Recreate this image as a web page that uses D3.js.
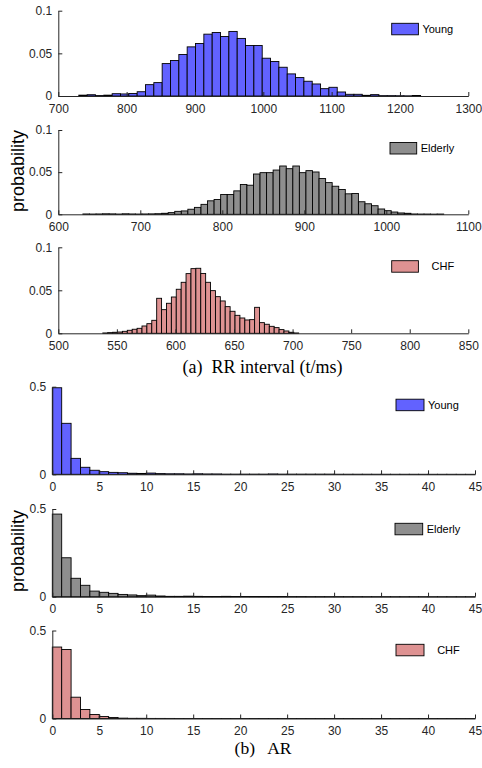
<!DOCTYPE html>
<html>
<head>
<meta charset="utf-8">
<script src="https://cdn.jsdelivr.net/npm/d3@7"></script>
<style>
  html, body { margin: 0; padding: 0; background: #fff; }
  svg { display: block; }
  text { white-space: pre; }
</style>
</head>
<body>
<svg id="chart" width="482" height="768"></svg>
<script>
// ---- RR interval histograms (probability per bin) ----
const rrYoungStart = 730, rrYoungBin = 12.2;
const rrYoung = [0.001, 0.0015, 0.0005, 0.001, 0.0027, 0.0024, 0.003, 0.005, 0.0133, 0.0157,
  0.038, 0.0416, 0.0486, 0.0576, 0.0616, 0.0725, 0.0745, 0.0698, 0.0757, 0.0675,
  0.0592, 0.0592, 0.0443, 0.0404, 0.0337, 0.0259, 0.0216, 0.0173, 0.0141, 0.0086,
  0.0102, 0.0047, 0.002, 0.002, 0.0008, 0.0016, 0.0004, 0.0004, 0.0003, 0.0002, 0.0006];

const rrElderlyStart = 630, rrElderlyBin = 8;
const rrElderly = [0.0004, 0.0003, 0.0004, 0.0006, 0.0005, 0.0003, 0.0006, 0.0004, 0.0003, 0.0004,
  0.0005, 0.0007, 0.0012, 0.002, 0.0035, 0.004, 0.006, 0.0082, 0.0118, 0.016,
  0.0176, 0.0235, 0.0235, 0.0278, 0.0353, 0.0345, 0.0478, 0.0494, 0.0494, 0.0525,
  0.0573, 0.0541, 0.0573, 0.0494, 0.0518, 0.0502, 0.0424, 0.0376, 0.0333, 0.0294,
  0.0243, 0.0247, 0.0149, 0.0125, 0.0102, 0.0063, 0.0043, 0.0027, 0.0016, 0.0012,
  0.0004, 0.0003, 0.0003, 0.0002, 0.0003];

const rrChfStart = 538, rrChfBin = 4.18;
const rrChf = [0.0004, 0.0008, 0.0012, 0.0015, 0.0023, 0.0035, 0.0047, 0.0058, 0.0085, 0.0112,
  0.0151, 0.0407, 0.0275, 0.0349, 0.0422, 0.0512, 0.0593, 0.0694, 0.0752, 0.0756,
  0.0696, 0.0593, 0.0496, 0.0426, 0.0376, 0.031, 0.0256, 0.0209, 0.0178, 0.0155,
  0.0159, 0.0302, 0.0124, 0.0105, 0.0081, 0.0066, 0.0043, 0.0027, 0.0012, 0.0004];

// ---- AR histograms (unit bins starting at 0) ----
const arStart = 0, arBin = 1;
const arYoung = [0.494, 0.291, 0.091, 0.040, 0.023, 0.015, 0.011, 0.009, 0.006, 0.005,
  0.007, 0.004, 0.003, 0.003, 0.002, 0.003, 0.002, 0.002, 0.001, 0.001,
  0.001, 0.001, 0.001, 0.002, 0.001, 0.001, 0.001, 0.001, 0.001, 0.001,
  0.0005, 0.0005, 0.0005, 0.0005, 0.0004, 0.0004, 0.0003, 0.0003, 0.0003, 0.0002,
  0.0002, 0.0002, 0.0002, 0.0001, 0.0001];
const arElderly = [0.471, 0.222, 0.105, 0.065, 0.032, 0.025, 0.019, 0.013, 0.010, 0.006,
  0.009, 0.004, 0.002, 0.002, 0.003, 0.002, 0.001, 0.001, 0.002, 0.001,
  0.001, 0.001, 0.001, 0.001, 0.001, 0.0008, 0.0008, 0.0006, 0.0006, 0.0005,
  0.0005, 0.0004, 0.0004, 0.0003, 0.0003, 0.0003, 0.0002, 0.0002, 0.0002, 0.0002,
  0.0001, 0.0001, 0.0001, 0.0001, 0.0001];
const arChf = [0.406, 0.392, 0.121, 0.051, 0.023, 0.011, 0.006, 0.002, 0.001, 0.001,
  0.0005, 0.0005, 0.0004, 0.0003, 0.0003, 0.0002, 0.0002, 0.0002, 0.0001, 0.0001,
  0.0001, 0.0001, 0.0001, 0.0001, 0.0001, 0.0001, 0.0001, 0.0001, 0.0001, 0.0001,
  0.0001, 0.0001, 0.0001, 0.0001, 0.0001, 0.0001, 0.0001, 0.0001, 0.0001, 0.0001,
  0.0001, 0.0001, 0.0001, 0.0001, 0.0001];

// ---- axis ticks ----
const rrYoungTicks = [700, 800, 900, 1000, 1100, 1200, 1300];
const rrElderlyTicks = [600, 700, 800, 900, 1000, 1100];
const rrChfTicks = [500, 550, 600, 650, 700, 750, 800, 850];
const arTicks = [0, 5, 10, 15, 20, 25, 30, 35, 40, 45];
const rrProbTicks = [0, 0.05, 0.1];
const arProbTicks = [0, 0.5];

// ---- groups ----
const groupNames = ["Young", "Elderly", "CHF"];
const groupLegendText = ["Young", "Elderly", "   CHF"];
const groupColors = ["#6262ff", "#8e8e8e", "#de9292"];

const svg = d3.select("#chart");
const axisColor = "#262626";
const sans = "'Liberation Sans', Arial, Helvetica, sans-serif";
const serif = "'Liberation Serif', 'Times New Roman', Times, serif";

function drawPanel(p) {
  const x = d3.scaleLinear().domain(p.xDomain).range([p.left, p.right]);
  const y = d3.scaleLinear().domain(p.yDomain).range([p.bottom, p.top]);
  const g = svg.append("g");

  // bars
  g.selectAll("rect.bar").data(p.values).join("rect")
    .attr("class", "bar")
    .attr("x", (d, i) => x(p.start + i * p.bin))
    .attr("width", (d, i) => x(p.start + (i + 1) * p.bin) - x(p.start + i * p.bin))
    .attr("y", d => y(d))
    .attr("height", d => y(0) - y(d))
    .attr("fill", p.color)
    .attr("stroke", "#000")
    .attr("stroke-width", 0.9);

  // x axis: ticks pointing inward, no domain end caps
  const xAxis = d3.axisBottom(x).tickValues(p.xTicks).tickSizeInner(-4).tickSizeOuter(0)
    .tickPadding(8).tickFormat(d3.format("d"));
  const gx = g.append("g").attr("transform", `translate(0,${p.bottom})`).call(xAxis);
  gx.select(".domain").attr("stroke", axisColor);
  gx.selectAll(".tick line").attr("stroke", axisColor);
  gx.selectAll(".tick text").attr("fill", axisColor).attr("font-family", sans)
    .attr("font-size", 12);

  // y axis
  const yAxis = d3.axisLeft(y).tickValues(p.yTicks).tickSizeInner(-4).tickSizeOuter(0)
    .tickPadding(6).tickFormat(d => d === 0 ? "0" : String(d));
  const gy = g.append("g").attr("transform", `translate(${p.left},0)`).call(yAxis);
  gy.select(".domain").attr("stroke", axisColor);
  gy.selectAll(".tick line").attr("stroke", axisColor);
  gy.selectAll(".tick text").attr("fill", axisColor).attr("font-family", sans)
    .attr("font-size", 12);

  // legend
  const lg = g.append("g").attr("transform", `translate(${p.right + p.legendDx},${p.top + p.legendDy})`);
  lg.append("rect").attr("x", 0).attr("y", 0).attr("width", p.legendW).attr("height", 11.5)
    .attr("fill", p.color).attr("stroke", "#000").attr("stroke-width", 0.9);
  lg.append("text").attr("x", p.legendW + 4).attr("y", 5.75).attr("dy", "0.35em")
    .attr("font-family", sans).attr("font-size", 11).attr("fill", "#000")
    .text(p.legendText);
}

const rrLeft = 58.3, rrRight = 468.3;
const arLeft = 52.3, arRight = 475;

drawPanel({ values: rrYoung, start: rrYoungStart, bin: rrYoungBin, xDomain: [700, 1300], xTicks: rrYoungTicks,
  yDomain: [0, 0.1], yTicks: rrProbTicks, color: groupColors[0], legendText: groupLegendText[0],
  left: rrLeft, right: rrRight, top: 10.7, bottom: 96, legendDx: -76.6, legendDy: 12.6, legendW: 26.7 });
drawPanel({ values: rrElderly, start: rrElderlyStart, bin: rrElderlyBin, xDomain: [600, 1100], xTicks: rrElderlyTicks,
  yDomain: [0, 0.1], yTicks: rrProbTicks, color: groupColors[1], legendText: groupLegendText[1],
  left: rrLeft, right: rrRight, top: 130, bottom: 214.3, legendDx: -78.3, legendDy: 12.5, legendW: 26.7 });
drawPanel({ values: rrChf, start: rrChfStart, bin: rrChfBin, xDomain: [500, 850], xTicks: rrChfTicks,
  yDomain: [0, 0.1], yTicks: rrProbTicks, color: groupColors[2], legendText: groupLegendText[2],
  left: rrLeft, right: rrRight, top: 247.3, bottom: 333.3, legendDx: -76.6, legendDy: 13.4, legendW: 26.7 });

drawPanel({ values: arYoung, start: arStart, bin: arBin, xDomain: [0, 45], xTicks: arTicks,
  yDomain: [0, 0.5], yTicks: arProbTicks, color: groupColors[0], legendText: groupLegendText[0],
  left: arLeft, right: arRight, top: 386.7, bottom: 474.3, legendDx: -79, legendDy: 12.5, legendW: 28 });
drawPanel({ values: arElderly, start: arStart, bin: arBin, xDomain: [0, 45], xTicks: arTicks,
  yDomain: [0, 0.5], yTicks: arProbTicks, color: groupColors[1], legendText: groupLegendText[1],
  left: arLeft, right: arRight, top: 509, bottom: 596.7, legendDx: -80, legendDy: 14.3, legendW: 27.7 });
drawPanel({ values: arChf, start: arStart, bin: arBin, xDomain: [0, 45], xTicks: arTicks,
  yDomain: [0, 0.5], yTicks: arProbTicks, color: groupColors[2], legendText: groupLegendText[2],
  left: arLeft, right: arRight, top: 630.5, bottom: 718.5, legendDx: -79, legendDy: 13.8, legendW: 28 });

// y labels
svg.append("text").attr("transform", "translate(23.5,171) rotate(-90)")
  .attr("text-anchor", "middle").attr("font-family", sans).attr("font-size", 18).attr("fill", "#000")
  .text("probability");
svg.append("text").attr("transform", "translate(23.5,551) rotate(-90)")
  .attr("text-anchor", "middle").attr("font-family", sans).attr("font-size", 18).attr("fill", "#000")
  .text("probability");

// sub-figure captions
svg.append("text").attr("x", 262.5).attr("y", 372.5).attr("text-anchor", "middle")
  .attr("font-family", serif).attr("font-size", 18).attr("fill", "#000")
  .text("(a)  RR interval (t/ms)");
svg.append("text").attr("x", 263).attr("y", 754).attr("text-anchor", "middle")
  .attr("font-family", serif).attr("font-size", 17.5).attr("fill", "#000")
  .text("(b)   AR");
</script>
</body>
</html>
